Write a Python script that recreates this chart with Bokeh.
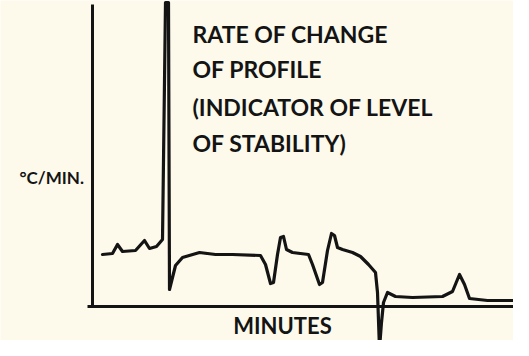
from bokeh.plotting import figure
from bokeh.models import Range1d, FixedTicker
from bokeh.embed import file_html
from bokeh.resources import INLINE
from bokeh.core.properties import value

# ---- data ----
minutes = [1.0, 2.0, 2.5, 3.0, 4.3, 5.2, 5.7, 6.4, 7.0, 7.3, 7.6, 7.7, 8.0, 8.3, 9.0,
           10.7, 12.3, 14.0, 16.8, 17.3, 17.8, 18.1, 18.5, 18.8, 19.1, 19.4, 20.0,
           21.6, 22.0, 22.7, 23.0, 23.5, 23.9, 24.2, 24.5, 25.0, 26.0, 26.8, 27.6,
           28.3, 28.5, 28.7, 28.9, 29.1, 29.5, 30.3, 32.0, 35.0, 36.0, 36.7, 37.2,
           37.7, 39.5, 42.0]
rate = [5.2, 5.3, 6.2, 5.5, 5.6, 6.6, 5.8, 6.0, 6.7, 30.4, 30.4, 1.7, 2.9, 4.1, 4.9,
        5.4, 5.2, 5.2, 5.1, 4.2, 2.3, 2.4, 5.2, 6.9, 7.0, 5.7, 5.4,
        5.2, 4.2, 2.2, 2.4, 5.6, 7.3, 7.1, 5.9, 5.7, 5.4, 5.0, 4.2,
        3.4, 1.4, -4.2, -1.6, 0.4, 1.4, 1.0, 0.9, 1.0, 1.5, 3.2, 2.2,
        0.8, 0.6, 0.6]

note_lines = ["RATE OF CHANGE", "OF PROFILE", "(INDICATOR OF LEVEL", "OF STABILITY)"]
y_label = "°C/MIN."
x_label = "MINUTES"

INK = "#141414"
BG = "#fdfaec"
FONT = "Lato"

p = figure(width=513, height=340, output_backend="svg", toolbar_location=None,
           x_range=Range1d(-9.2, 42.1), y_range=Range1d(-3.4, 30.6), min_border=0)
p.background_fill_color = BG
p.border_fill_color = BG
p.outline_line_color = None
p.grid.visible = False

for ax in (p.xaxis, p.yaxis):
    ax.fixed_location = 0
    ax.ticker = FixedTicker(ticks=[])
    ax.minor_tick_line_color = None
    ax.major_tick_line_color = None
    ax.major_tick_out = 0
    ax.major_tick_in = 0
    ax.minor_tick_out = 0
    ax.major_label_standoff = 0
    ax.major_label_text_font_size = "0px"
    ax.axis_line_color = INK
    ax.axis_line_width = 3
p.xaxis.bounds = (-0.5, 43.0)
p.yaxis.bounds = (0, 30.2)

p.line(minutes, rate, line_color=INK, line_width=3.2, line_join="round", line_cap="round")

p.text(x=[10.0] * len(note_lines), y=[27.3, 23.8, 20.0, 16.4], text=note_lines,
       text_font=value(FONT), text_font_size="23px", text_font_style="bold",
       text_color=INK, text_baseline="middle", text_align="left")
p.text(x=[-7.3], y=[12.9], text=[y_label], text_font=value(FONT),
       text_font_size="17px", text_font_style="bold", text_color=INK,
       text_baseline="middle", text_align="left")
p.text(x=[19.0], y=[-1.9], text=[x_label], text_font=value(FONT),
       text_font_size="22px", text_font_style="bold", text_color=INK,
       text_baseline="middle", text_align="center")

open("out.html", "w").write(file_html(p, INLINE))
